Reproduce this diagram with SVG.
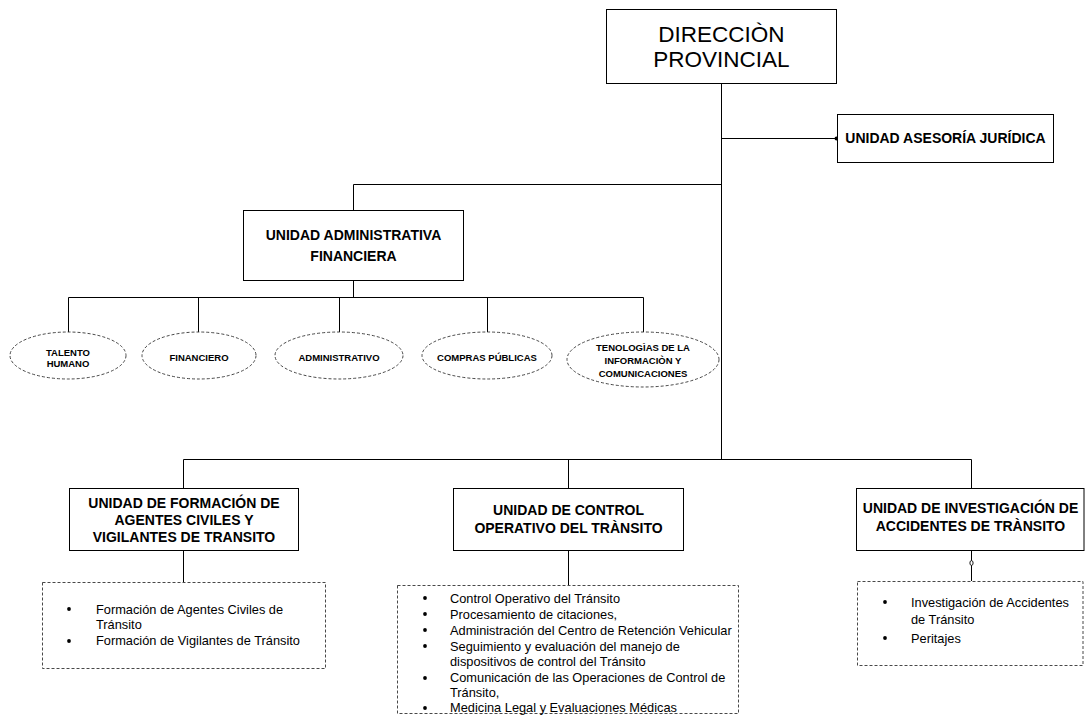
<svg xmlns="http://www.w3.org/2000/svg" width="1085" height="724" viewBox="0 0 1085 724">
<style>
  .box{fill:#fff;stroke:#000;stroke-width:1}
  .dbox{fill:#fff;stroke:#333;stroke-width:0.9;stroke-dasharray:3 2}
  .ell{fill:#fff;stroke:#333;stroke-width:0.9;stroke-dasharray:3 2}
  .ln{fill:none;stroke:#000;stroke-width:1}
  .t{font-family:"Liberation Sans",Arial,sans-serif;fill:#000}
  .title{font-size:14px;font-weight:bold;text-anchor:middle}
  .small{font-size:9.5px;font-weight:bold;text-anchor:middle}
  .item{font-size:12.8px}
  .big{font-size:22.5px;text-anchor:middle}
</style>
<rect width="1085" height="724" fill="#fff"/>
<g id="connectors">
  <path class="ln" d="M721.5 83 V459"/>
  <path class="ln" d="M721.5 138.5 H836"/>
  <circle cx="836.5" cy="138.5" r="2" fill="#000"/>
  <path class="ln" d="M721.5 184.5 H353.5 V210"/>
  <path class="ln" d="M353.5 280 V297.5"/>
  <path class="ln" d="M68.5 332 V297.5 H643.5 V332"/>
  <path class="ln" d="M198.5 297.5 V332"/>
  <path class="ln" d="M339.5 297.5 V332"/>
  <path class="ln" d="M487.5 297.5 V332"/>
  <path class="ln" d="M183.5 488 V459.5 H971.5 V488"/>
  <path class="ln" d="M568.5 459.5 V488"/>
  <path class="ln" d="M183.5 551 V582"/>
  <path class="ln" d="M568.5 551 V585"/>
  <path class="ln" d="M971.5 551 V581"/>
  <ellipse cx="971.5" cy="563" rx="1.6" ry="2.4" fill="#fff" stroke="#000" stroke-width="0.9"/>
</g>
<g id="direccion">
  <rect class="box" x="606.5" y="9.5" width="230" height="74"/>
  <text class="t big" x="721.5" y="42">DIRECCIÒN</text>
  <text class="t big" x="721.5" y="67">PROVINCIAL</text>
</g>
<g id="asesoria">
  <rect class="box" x="837.5" y="114.5" width="216" height="48"/>
  <text class="t title" x="945.5" y="143">UNIDAD ASESORÍA JURÍDICA</text>
</g>
<g id="administrativa">
  <rect class="box" x="243.5" y="210.5" width="220" height="70"/>
  <text class="t title" x="353.5" y="240">UNIDAD ADMINISTRATIVA</text>
  <text class="t title" x="353.5" y="261">FINANCIERA</text>
</g>
<g id="talento">
  <ellipse class="ell" cx="68" cy="355.5" rx="58" ry="23.5"/>
  <text class="t small" x="68" y="355.5">TALENTO</text>
  <text class="t small" x="68" y="366.5">HUMANO</text>
</g>
<g id="financiero">
  <ellipse class="ell" cx="199" cy="355.5" rx="57" ry="23.5"/>
  <text class="t small" x="199" y="360.5">FINANCIERO</text>
</g>
<g id="administrativo">
  <ellipse class="ell" cx="339" cy="355.5" rx="64" ry="23.5"/>
  <text class="t small" x="339" y="360.5">ADMINISTRATIVO</text>
</g>
<g id="compras">
  <ellipse class="ell" cx="487" cy="355.5" rx="65" ry="23.5"/>
  <text class="t small" x="487" y="360.5">COMPRAS PÚBLICAS</text>
</g>
<g id="tecnologias">
  <ellipse class="ell" cx="643" cy="359.5" rx="76" ry="27.5"/>
  <text class="t small" x="643" y="350.5">TENOLOGÌAS DE LA</text>
  <text class="t small" x="643" y="363.5">INFORMACIÒN Y</text>
  <text class="t small" x="643" y="376.5">COMUNICACIONES</text>
</g>
<g id="formacion">
  <rect class="box" x="69.5" y="488.5" width="229" height="62"/>
  <text class="t title" x="184" y="508">UNIDAD DE FORMACIÓN DE</text>
  <text class="t title" x="184" y="525">AGENTES CIVILES Y</text>
  <text class="t title" x="184" y="542">VIGILANTES DE TRANSITO</text>
</g>
<g id="formacion-lista">
  <rect class="dbox" x="42.5" y="582.5" width="283" height="86"/>
  <circle cx="69" cy="609" r="1.9"/>
  <circle cx="69" cy="641" r="1.9"/>
  <text class="t item" x="96" y="613.5">Formación de Agentes Civiles de</text>
  <text class="t item" x="96" y="629">Tránsito</text>
  <text class="t item" x="96" y="645">Formación de Vigilantes de Tránsito</text>
</g>
<g id="control">
  <rect class="box" x="453.5" y="488.5" width="230" height="62"/>
  <text class="t title" x="568.5" y="515">UNIDAD DE CONTROL</text>
  <text class="t title" x="568.5" y="533">OPERATIVO DEL TRÀNSITO</text>
</g>
<g id="control-lista">
  <rect class="dbox" x="397.5" y="585.5" width="341" height="128"/>
  <circle cx="425" cy="598" r="1.9"/>
  <circle cx="425" cy="614" r="1.9"/>
  <circle cx="425" cy="630" r="1.9"/>
  <circle cx="425" cy="646" r="1.9"/>
  <circle cx="425" cy="678" r="1.9"/>
  <circle cx="425" cy="708" r="1.9"/>
  <text class="t item" x="450" y="602.5">Control Operativo del Tránsito</text>
  <text class="t item" x="450" y="618.5">Procesamiento de citaciones,</text>
  <text class="t item" x="450" y="634.5">Administración del Centro de Retención Vehicular</text>
  <text class="t item" x="450" y="650.5">Seguimiento y evaluación del manejo  de</text>
  <text class="t item" x="450" y="666">dispositivos de control del Tránsito</text>
  <text class="t item" x="450" y="682">Comunicación de las Operaciones de Control de</text>
  <text class="t item" x="450" y="697">Tránsito,</text>
  <text class="t item" x="450" y="712">Medicina Legal y Evaluaciones Médicas</text>
</g>
<g id="investigacion">
  <rect class="box" x="856.5" y="488.5" width="227.5" height="62"/>
  <text class="t title" x="970.5" y="513">UNIDAD DE INVESTIGACIÓN DE</text>
  <text class="t title" x="970.5" y="531">ACCIDENTES DE TRÀNSITO</text>
</g>
<g id="investigacion-lista">
  <rect class="dbox" x="857.5" y="581.5" width="225.5" height="84"/>
  <circle cx="885" cy="602" r="1.9"/>
  <circle cx="885" cy="638" r="1.9"/>
  <text class="t item" x="911" y="606.5">Investigación de Accidentes</text>
  <text class="t item" x="911" y="624">de Tránsito</text>
  <text class="t item" x="911" y="642.5">Peritajes</text>
</g>
</svg>
